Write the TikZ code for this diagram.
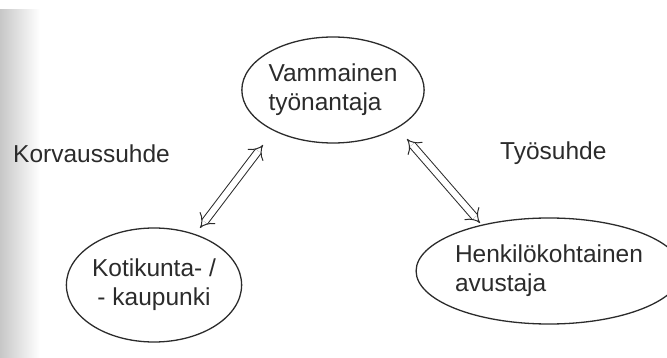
\documentclass[tikz,border=0pt]{standalone}
\usepackage{fontspec}
\setmainfont{Liberation Sans}
\usetikzlibrary{arrows.meta, shapes.geometric}
\definecolor{ink}{HTML}{2b2b2b}
\tikzset{
  party/.style    = {draw=ink, ellipse, line width=1.3pt, text=ink,
                     font=\fontsize{24.5}{29}\selectfont, inner sep=0pt},
  relarrow/.style = {draw=ink, double, double distance=6pt, line width=1pt,
                     {Implies[scale=1.3]}-{Implies[scale=1.3]}},
  rellbl/.style   = {text=ink, font=\fontsize{24.5}{29}\selectfont, inner sep=0pt},
}

\begin{document}
\begin{tikzpicture}[x=1pt, y=-1pt]
    \useasboundingbox (0,0) rectangle (667,358);
    \shade[left color=black!22, right color=white] (0,10) rectangle (40,358);

    \node[party, minimum width=176pt, minimum height=106pt, align=left]   (emp)    at (333,90)  {Vammainen\\työnantaja};
    \node[party, minimum width=172pt, minimum height=114pt, align=center] (kunta)  at (154,285) {Kotikunta- /\\- kaupunki};
    \node[party, minimum width=228pt, minimum height=106pt, align=left]   (assist) at (549,271) {Henkilökohtainen\\avustaja};

    \node[rellbl, anchor=base west] (korv) at (13,163)  {Korvaussuhde};
    \node[rellbl, anchor=base west] (tyo)  at (500,160) {Työsuhde};

    % arrow ends sit a little off the ellipses
    \coordinate (kunta-end)  at ([shift={(46,-57)}]kunta.center);
    \coordinate (emp-left)   at ([shift={(-70,55)}]emp.center);
    \coordinate (emp-right)  at ([shift={(74,49)}]emp.center);
    \coordinate (assist-end) at ([shift={(-69,-48)}]assist.center);

    \draw[relarrow] (kunta-end) -- (emp-left);
    \draw[relarrow] (emp-right) -- (assist-end);
\end{tikzpicture}
\end{document}
